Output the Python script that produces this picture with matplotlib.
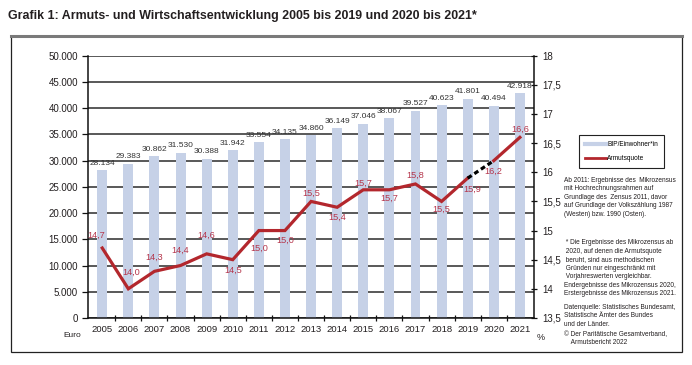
import matplotlib.pyplot as plt
from matplotlib.patches import Rectangle
from matplotlib.lines import Line2D
from matplotlib.ticker import FuncFormatter, MultipleLocator

plt.rcParams['font.family'] = ['Liberation Sans', 'DejaVu Sans']

# data
years = [str(y) for y in range(2005, 2022)]
bip = [28134, 29383, 30862, 31530, 30388, 31942, 33554, 34135, 34860,
       36149, 37046, 38067, 39527, 40623, 41801, 40494, 42918]
armut = [14.7, 14.0, 14.3, 14.4, 14.6, 14.5, 15.0, 15.0, 15.5,
         15.4, 15.7, 15.7, 15.8, 15.5, 15.9, 16.2, 16.6]

# label placement (points, + = above point)
pct_dy = [9, 12, 10, 11, 13, -8, -13, -7, 6, -7, 5, -6, 6, -6, -8, -8, 6]
pct_dx = [-4, 2, 0, 0, 0, 0, 0, 0, 0, 0, 0, 0, 0, 0, 3, 0, 0]

bar_col = '#c6d1e7'
line_col = '#b3272d'
lab_col = '#b5354b'

fig = plt.figure(figsize=(6.92, 3.65), dpi=100)

# outer frame
fig.patches.append(Rectangle((0.0159, 0.0356), 0.9696, 0.865, transform=fig.transFigure,
                             fill=False, edgecolor='#222222', linewidth=0.9))
fig.add_artist(Line2D([0.0159, 0.9855], [0.9006, 0.9006], transform=fig.transFigure,
                      color='#7a7a7a', linewidth=2.2))

fig.text(0.012, 0.955, 'Grafik 1: Armuts- und Wirtschaftsentwicklung 2005 bis 2019 und 2020 bis 2021*',
         fontsize=8.9, fontweight='bold', color='#231f20', va='center', ha='left')

ax = fig.add_axes([0.127, 0.129, 0.645, 0.718])
x = list(range(len(years)))
ax.bar(x, bip, width=0.38, color=bar_col, zorder=2)
ax.set_ylim(0, 50000)
ax.set_xlim(-0.55, len(years) - 0.45)
ax.yaxis.set_major_locator(MultipleLocator(5000))
ax.yaxis.set_major_formatter(FuncFormatter(lambda v, p: f'{int(v):,}'.replace(',', '.')))
ax.grid(axis='y', color='#2b2b2b', linewidth=1.1, zorder=1)
ax.set_axisbelow(True)
for s in ['left', 'bottom']:
    ax.spines[s].set_linewidth(1.1)
    ax.spines[s].set_color('#111111')
ax.spines['top'].set_visible(False)
ax.spines['right'].set_visible(False)
ax.tick_params(axis='y', labelsize=7, length=4, width=0.9, color='#111111', labelcolor='#231f20', pad=3)
ax.set_xticks(x)
ax.set_xticklabels(years)
ax.set_xticks([i + 0.5 for i in x[:-1]], minor=True)
ax.tick_params(axis='x', which='major', length=0, labelsize=6.8, labelcolor='#231f20', pad=5)
ax.tick_params(axis='x', which='minor', direction='inout', length=5, width=0.9, color='#111111')

for xi, v in zip(x, bip):
    ax.annotate(f'{v:,}'.replace(',', '.'), (xi, v), xytext=(0, 5), textcoords='offset points',
                ha='center', va='center', fontsize=6, color='#333333', zorder=5)

ax2 = ax.twinx()
ax2.set_ylim(13.5, 18)
ax2.yaxis.set_major_locator(MultipleLocator(0.5))
ax2.yaxis.set_major_formatter(FuncFormatter(lambda v, p: (f'{v:g}').replace('.', ',')))
ax2.tick_params(axis='y', direction='inout', length=5, width=0.9, color='#111111',
                labelsize=7, labelcolor='#231f20', pad=3)
for s in ['top', 'left', 'bottom']:
    ax2.spines[s].set_visible(False)
ax2.spines['right'].set_linewidth(1.1)
ax2.spines['right'].set_color('#111111')

ax2.plot(x[:15], armut[:15], color=line_col, linewidth=2.3, solid_joinstyle='miter', zorder=4)
ax2.plot(x[14:16], armut[14:16], color='black', linewidth=2.3, linestyle=(0, (1.5, 1)), zorder=4)
ax2.plot(x[15:], armut[15:], color=line_col, linewidth=2.3, zorder=4)
for xi, v, dx, dy in zip(x, armut, pct_dx, pct_dy):
    ax2.annotate(f'{v:.1f}'.replace('.', ','), (xi, v), xytext=(dx, dy), textcoords='offset points',
                 ha='center', va='center', fontsize=6.6, color=lab_col, zorder=5)

fig.text(0.091, 0.08, 'Euro', fontsize=6, color='#231f20', ha='left', va='center')
fig.text(0.776, 0.074, '%', fontsize=6.5, color='#231f20', ha='left', va='center')

handles = [Line2D([], [], color=bar_col, linewidth=3), Line2D([], [], color=line_col, linewidth=2)]
fig.legend(handles, ['BIP/Einwohner*in', 'Armutsquote'], loc='upper left',
           bbox_to_anchor=(0.832, 0.638), fontsize=4.7, frameon=True, fancybox=False,
           edgecolor='#222222', handlelength=3.2, handletextpad=0.2, borderpad=0.9,
           labelspacing=1.0, framealpha=1).get_frame().set_linewidth(0.8)

notes = ('Ab 2011: Ergebnisse des  Mikrozensus\nmit Hochrechnungsrahmen auf\n'
         'Grundlage des  Zensus 2011, davor\nauf Grundlage der Volkszählung 1987\n'
         '(Westen) bzw. 1990 (Osten).')
fig.text(0.815, 0.46, notes, fontsize=4.7, color='#231f20', va='center', ha='left', linespacing=1.3)
notes2 = (' * Die Ergebnisse des Mikrozensus ab\n 2020, auf denen die Armutsquote\n'
          ' beruht, sind aus methodischen\n Gründen nur eingeschränkt mit\n'
          ' Vorjahreswerten vergleichbar.\nEndergebnisse des Mikrozensus 2020,\n'
          'Erstergebnisse des Mikrozensus 2021.')
fig.text(0.815, 0.265, notes2, fontsize=4.7, color='#231f20', va='center', ha='left', linespacing=1.3)
notes3 = ('Datenquelle: Statistisches Bundesamt,\nStatistische Ämter des Bundes\nund der Länder.')
fig.text(0.815, 0.135, notes3, fontsize=4.7, color='#231f20', va='center', ha='left', linespacing=1.3)
notes4 = ('© Der Paritätische Gesamtverband,\n    Armutsbericht 2022')
fig.text(0.815, 0.072, notes4, fontsize=4.7, color='#231f20', va='center', ha='left', linespacing=1.3)

fig.savefig('out.png', dpi=100)
